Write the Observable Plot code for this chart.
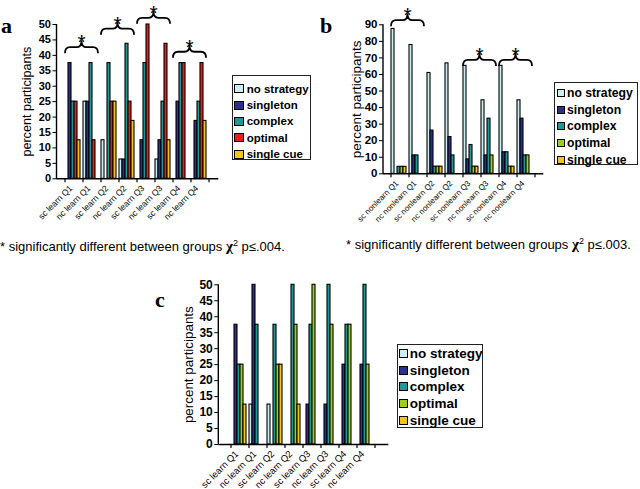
<!DOCTYPE html>
<html>
<head>
<meta charset="utf-8">
<script src="https://cdn.jsdelivr.net/npm/d3@7"></script>
<script src="https://cdn.jsdelivr.net/npm/@observablehq/plot@0.6"></script>
<style>
html, body { margin: 0; padding: 0; background: #fff; }
#root { position: relative; width: 640px; height: 489px; overflow: hidden; font-family: "Liberation Sans", Arial, sans-serif; color: #000; }
.panel { position: absolute; }
.panel svg { overflow: visible; background: transparent; }
.letter { position: absolute; font-family: "Liberation Serif", "Times New Roman", serif; font-weight: bold; font-size: 22px; line-height: 1; }
.legend { position: absolute; box-sizing: border-box; border: 1px solid #222; background: #fff; font-weight: bold; }
.legend .row { display: flex; align-items: center; white-space: nowrap; }
.legend .sw { box-sizing: border-box; border: 1px solid #000; flex: none; }
.caption { position: absolute; font-size: 13px; line-height: 1; white-space: nowrap; }
.caption .chi { font-family: "Liberation Serif", serif; font-weight: bold; font-size: 15px; }
.caption sup { font-size: 9px; }
</style>
</head>
<body>
<div id="root"></div>
<script>
// ---------- data ----------
const series = ["no strategy", "singleton", "complex", "optimal", "single cue"];
const learnCats = ["sc learn Q1", "nc learn Q1", "sc learn Q2", "nc learn Q2", "sc learn Q3", "nc learn Q3", "sc learn Q4", "nc learn Q4"];
const nonlearnCats = ["sc nonlearn Q1", "nc nonlearn Q1", "sc nonlearn Q2", "nc nonlearn Q2", "sc nonlearn Q3", "nc nonlearn Q3", "sc nonlearn Q4", "nc nonlearn Q4"];

// panel a
const aNoStrategy = [0, 25, 12.5, 6.25, 0, 6.25, 0, 0];
const aSingleton  = [37.5, 25, 0, 6.25, 12.5, 12.5, 25, 18.75];
const aComplex    = [25, 37.5, 37.5, 43.75, 37.5, 25, 37.5, 25];
const aOptimal    = [25, 12.5, 25, 25, 50, 43.75, 37.5, 37.5];
const aSingleCue  = [12.5, 0, 25, 18.75, 0, 12.5, 0, 18.75];

// panel b
const bNoStrategy = [87.5, 77.8, 60.9, 66.7, 65.2, 44.4, 65.2, 44.4];
const bSingleton  = [0, 11.1, 26.1, 22.2, 8.7, 11.1, 13.0, 33.3];
const bComplex    = [4.2, 11.1, 4.3, 11.1, 17.4, 33.3, 13.0, 11.1];
const bOptimal    = [4.2, 0, 4.3, 0, 4.3, 11.1, 4.3, 11.1];
const bSingleCue  = [4.2, 0, 4.3, 0, 4.3, 0, 4.3, 0];

// panel c
const cNoStrategy = [0, 12.5, 12.5, 0, 0, 0, 0, 0];
const cSingleton  = [37.5, 50, 0, 0, 12.5, 12.5, 25, 25];
const cComplex    = [25, 37.5, 37.5, 50, 37.5, 50, 37.5, 50];
const cOptimal    = [25, 0, 25, 37.5, 50, 37.5, 37.5, 25];
const cSingleCue  = [12.5, 0, 25, 12.5, 0, 0, 0, 0];

// significance braces
const aBraceFrom  = ["sc learn Q1", "sc learn Q2", "sc learn Q3", "sc learn Q4"];
const aBraceTo    = ["nc learn Q1", "nc learn Q2", "nc learn Q3", "nc learn Q4"];
const aBraceLevel = [42.5, 48.5, 52, 41];
const bBraceFrom  = ["sc nonlearn Q1", "sc nonlearn Q3", "sc nonlearn Q4"];
const bBraceTo    = ["nc nonlearn Q1", "nc nonlearn Q3", "nc nonlearn Q4"];
const bBraceLevel = [92.5, 68.5, 68.5];

const colorsA  = ["#cbeef1", "#2c2f8c", "#1f9898", "#e0201c", "#f3c41b"];
const colorsBC = ["#cbeef1", "#2c2f8c", "#1f9898", "#9ccd1f", "#f3c41b"];

// ---------- helpers ----------
const root = document.getElementById("root");
const FONT = "Liberation Sans, Arial, sans-serif";

function panel(opts) {
  const {cats, values, colors, yMax, tickCount, width, height, margins, braces,
         left, top, catFont, tickFont, labelFont, labelOffset} = opts;
  const key = (c, s) => c + "|" + s;
  const rows = cats.flatMap((c, i) => series.map((s, j) => ({cat: c, series: s, key: key(c, s), value: values[j][i]})));
  const xDomain = cats.flatMap(c => [...series.map(s => key(c, s)), key(c, "gap")]);

  const decor = (index, scales, vals, dims) => {
    const {x, y} = scales;
    const bw = x.bandwidth();
    const g = d3.create("svg:g").attr("fill", "none").attr("stroke", "#000");
    const y0 = y(0);
    const xl = dims.marginLeft;
    g.append("line").attr("x1", xl).attr("x2", xl).attr("y1", y0 + 0.5).attr("y2", y(yMax)).attr("stroke-width", 1.4);
    const bounds = cats.map(c => x(key(c, series[0])));
    bounds.push(x(key(cats[cats.length - 1], "gap")) + bw);
    for (const bx of bounds) g.append("line").attr("x1", bx).attr("x2", bx).attr("y1", y0).attr("y2", y0 + 4).attr("stroke-width", 1.2);
    if (braces) {
      braces.from.forEach((f, i) => {
        const x1 = x(key(f, series[0]));
        const x2 = x(key(braces.to[i], series[series.length - 1])) + bw;
        const yl = y(braces.level[i]);
        const xm = (x1 + x2) / 2;
        const r = 5;
        const d = `M${x1},${yl + 6} Q${x1},${yl} ${x1 + r},${yl} L${xm - r},${yl} Q${xm},${yl} ${xm},${yl - 6} Q${xm},${yl} ${xm + r},${yl} L${x2 - r},${yl} Q${x2},${yl} ${x2},${yl + 6}`;
        g.append("path").attr("d", d).attr("stroke-width", 1.8).attr("stroke-linejoin", "round");
        g.append("text").attr("x", xm).attr("y", yl + 2).attr("text-anchor", "middle")
          .attr("stroke", "none").attr("fill", "#000")
          .attr("font-family", FONT).attr("font-size", 21).text("*");
      });
    }
    return g.node();
  };

  const chart = Plot.plot({
    width, height,
    marginLeft: margins[0], marginRight: margins[1], marginTop: margins[2], marginBottom: margins[3],
    style: {fontFamily: FONT, fontSize: tickFont + "px", overflow: "visible", background: "transparent"},
    x: {type: "band", domain: xDomain, padding: 0, axis: null},
    y: {domain: [0, yMax], ticks: tickCount, tickSize: 4, tickPadding: 2, label: "percent participants",
        labelAnchor: "center", labelOffset, labelArrow: "none"},
    color: {domain: series, range: colors},
    marks: [
      Plot.barY(rows.filter(d => d.value > 0), {x: "key", y: "value", fill: "series", stroke: "#000", strokeWidth: 1.1}),
      Plot.ruleY([0], {stroke: "#000", strokeWidth: 1.4}),
      Plot.text(cats, {x: c => key(c, "complex"), frameAnchor: "bottom", text: d => d, rotate: -45,
                       textAnchor: "end", dy: 10, fontSize: catFont, fill: "#000"}),
      decor
    ]
  });
  const div = document.createElement("div");
  div.className = "panel";
  div.style.left = left + "px";
  div.style.top = top + "px";
  div.appendChild(chart);
  root.appendChild(div);
  // y-axis: bold tick labels, plain title without arrow
  chart.querySelectorAll('g[aria-label*="y-axis"] text').forEach(t => {
    const s = t.textContent.replace(/[↑↓]/g, "").trim();
    if (/percent/.test(s)) {
      t.textContent = s;
      t.style.fontSize = labelFont + "px";
      t.style.fontWeight = "normal";
    } else {
      t.style.fontWeight = "bold";
    }
  });
}

function legend({left, top, width, height, colors, fontSize, padTop, rowH, padLeft, sw, swH, gap}) {
  const box = document.createElement("div");
  box.className = "legend";
  Object.assign(box.style, {left: left + "px", top: top + "px", width: width + "px", height: height + "px",
    paddingTop: padTop + "px", paddingLeft: padLeft + "px", fontSize: fontSize + "px"});
  series.forEach((s, i) => {
    const row = document.createElement("div");
    row.className = "row";
    row.style.height = rowH + "px";
    const swatch = document.createElement("span");
    swatch.className = "sw";
    Object.assign(swatch.style, {width: sw + "px", height: swH + "px", background: colors[i], marginRight: gap + "px"});
    const t = document.createElement("span");
    t.textContent = s;
    row.appendChild(swatch);
    row.appendChild(t);
    box.appendChild(row);
  });
  root.appendChild(box);
}

function addText(cls, html, left, top) {
  const d = document.createElement("div");
  d.className = cls;
  d.innerHTML = html;
  d.style.left = left + "px";
  d.style.top = top + "px";
  root.appendChild(d);
}

// ---------- panels ----------
panel({cats: learnCats, values: [aNoStrategy, aSingleton, aComplex, aOptimal, aSingleCue], colors: colorsA,
  yMax: 50, tickCount: 10, width: 232, height: 240, margins: [56.5, 13.7, 24, 61.7],
  braces: {from: aBraceFrom, to: aBraceTo, level: aBraceLevel},
  left: 0, top: 0, catFont: 8.6, tickFont: 11, labelFont: 12.6, labelOffset: 34.5});

panel({cats: nonlearnCats, values: [bNoStrategy, bSingleton, bComplex, bOptimal, bSingleCue], colors: colorsBC,
  yMax: 90, tickCount: 9, width: 232, height: 240, margins: [63, 8.7, 24.3, 66.7],
  braces: {from: bBraceFrom, to: bBraceTo, level: bBraceLevel},
  left: 320, top: 0, catFont: 8, tickFont: 11.5, labelFont: 13.5, labelOffset: 32.3});

panel({cats: learnCats, values: [cNoStrategy, cSingleton, cComplex, cOptimal, cSingleCue], colors: colorsBC,
  yMax: 50, tickCount: 10, width: 240, height: 219, margins: [68.3, 1.7, 14.3, 45],
  braces: null,
  left: 150, top: 270, catFont: 9.4, tickFont: 12, labelFont: 13.4, labelOffset: 35});

legend({left: 231.7, top: 75, width: 79, height: 84.5, colors: colorsA, fontSize: 11.5, padTop: 4.5, rowH: 16.4, padLeft: 1, sw: 10, swH: 9, gap: 3});
legend({left: 554, top: 81.5, width: 84, height: 83.5, colors: colorsBC, fontSize: 12.2, padTop: 2, rowH: 16.7, padLeft: 2, sw: 8, swH: 8, gap: 2});
legend({left: 396.7, top: 344, width: 86, height: 83.5, colors: colorsBC, fontSize: 13.5, padTop: 0, rowH: 16.8, padLeft: 1, sw: 9, swH: 9, gap: 2});

addText("letter", "a", 1, 14.6);
addText("letter", "b", 320, 14.6);
addText("letter", "c", 155, 288.6);

const capA = '* significantly different between groups <span class="chi">χ</span><sup>2</sup> p≤.004.';
const capB = '* significantly different between groups <span class="chi">χ</span><sup>2</sup> p≤.003.';
addText("caption", capA, 0, 239);
addText("caption", capB, 346, 237);
</script>
</body>
</html>
